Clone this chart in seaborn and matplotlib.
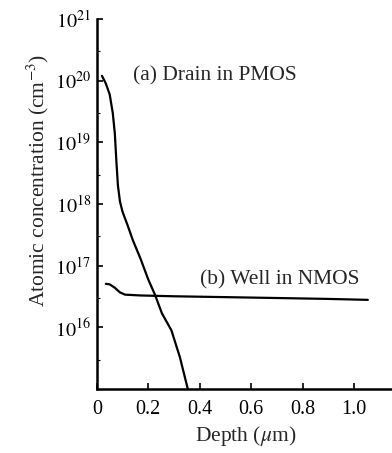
import numpy as np
import pandas as pd
import matplotlib
matplotlib.use("Agg")
import matplotlib.pyplot as plt
import seaborn as sns

# Drain in PMOS profile (depth in um, concentration in cm^-3)
drain_depth = [0.02, 0.035, 0.05, 0.062, 0.07, 0.076, 0.082, 0.09, 0.1, 0.12, 0.14, 0.17, 0.20, 0.226, 0.253, 0.29, 0.323, 0.354]
drain_conc = [1.2e20, 9e19, 6e19, 3e19, 1.4e19, 5e18, 2e18, 1.1e18, 7.5e17, 4.5e17, 2.6e17, 1.3e17, 6e16, 3.4e16, 1.7e16, 9e15, 3.3e15, 1e15]

# Well in NMOS profile
well_depth = [0.035, 0.05, 0.07, 0.09, 0.11, 0.17, 0.3, 0.5, 0.7, 0.9, 1.054]
well_conc = [5.1e16, 5.0e16, 4.4e16, 3.7e16, 3.4e16, 3.3e16, 3.2e16, 3.1e16, 3.0e16, 2.9e16, 2.8e16]

x_ticks = [0, 0.2, 0.4, 0.6, 0.8, 1.0]
x_labels = ["0", "0.2", "0.4", "0.6", "0.8", "1.0"]
y_ticks = [1e16, 1e17, 1e18, 1e19, 1e20, 1e21]
y_labels = ["$10^{16}$", "$10^{17}$", "$10^{18}$", "$10^{19}$", "$10^{20}$", "$10^{21}$"]
y_minor = [3e15, 3e16, 3e17, 3e18, 3e19, 3e20]

sns.set_style("ticks")
plt.rcParams["font.family"] = ["Liberation Serif", "DejaVu Serif"]
plt.rcParams["mathtext.fontset"] = "stix"

fig = plt.figure(figsize=(3.92, 4.53), dpi=100)
ax = fig.add_axes([0.247, 0.141, 0.753, 0.817])

drain = pd.DataFrame({"depth": drain_depth, "conc": drain_conc})
well = pd.DataFrame({"depth": well_depth, "conc": well_conc})
sns.lineplot(data=drain, x="depth", y="conc", color="black", lw=1.6, ax=ax, sort=False)
sns.lineplot(data=well, x="depth", y="conc", color="black", lw=1.6, ax=ax, sort=False)

ax.set_yscale("log")
ax.set_xlim(0, 1.148)
ax.set_ylim(1e15, 1e21)
ax.set_xticks(x_ticks)
ax.set_xticklabels(x_labels)
ax.set_yticks(y_ticks)
ax.set_yticklabels(y_labels)
ax.set_yticks(y_minor, minor=True)
ax.set_yticklabels([], minor=True)
ax.tick_params(which="major", direction="in", length=4, width=1.2, labelsize=14.5, colors="black")
ax.tick_params(axis="x", pad=8)
ax.tick_params(axis="y", pad=4)
ax.tick_params(which="minor", direction="in", length=2.5, width=0.8, colors="black")

for side in ["top", "right"]:
    ax.spines[side].set_visible(False)
for side in ["left", "bottom"]:
    ax.spines[side].set_linewidth(1.8)
    ax.spines[side].set_color("black")

ax.text(0.14, 1.2e20, "(a) Drain in PMOS", fontsize=15.5, va="center")
ax.text(0.40, 5.8e16, "(b) Well in NMOS", fontsize=15.5, va="center")

ax.set_xlabel(r"Depth ($\mu$m)", fontsize=15.5)
ax.set_ylabel(r"Atomic concentration (cm$^{-3}$)", fontsize=15.5)
ax.xaxis.set_label_coords(0.505, -0.095)
ax.yaxis.set_label_coords(-0.155, 0.565)

fig.savefig("out.png", dpi=100)
